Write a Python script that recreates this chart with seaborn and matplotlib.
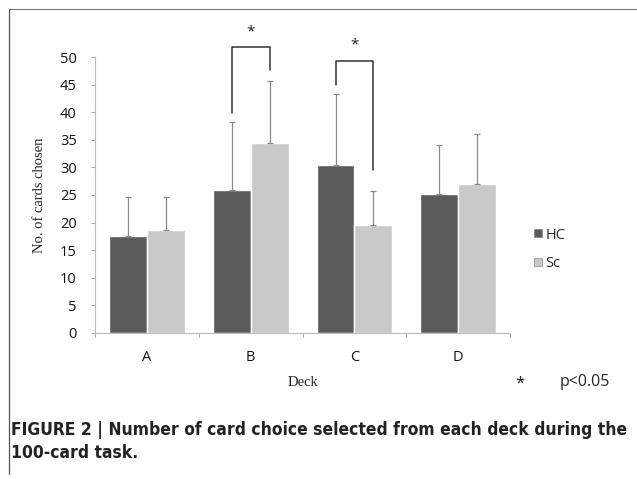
import pandas as pd
import seaborn as sns
import matplotlib.pyplot as plt
from matplotlib.lines import Line2D

# Data
decks = ['A', 'B', 'C', 'D']
groups = ['HC', 'Sc']
hc_mean = [17.6, 25.9, 30.5, 25.1]
sc_mean = [18.6, 34.4, 19.6, 27.0]
hc_sd = [7.0, 12.3, 12.8, 9.0]
sc_sd = [6.0, 11.2, 6.1, 9.1]

# significance brackets: deck, top of bracket, left leg end, right leg end, star y
sig_decks = ['B', 'C']
sig_top = [51.9, 49.3]
sig_left = [39.8, 44.9]
sig_right = [47.6, 29.5]
sig_star = [54.6, 52.2]

colors = {'HC': '#5a5a5a', 'Sc': '#c9c9c9'}

df = pd.DataFrame({
    'deck': decks * 2,
    'group': ['HC'] * 4 + ['Sc'] * 4,
    'mean': hc_mean + sc_mean,
    'sd': hc_sd + sc_sd,
})

sns.set_style('white')
plt.rcParams['font.family'] = ['Open Sans', 'DejaVu Sans']

fig = plt.figure(figsize=(6.37, 4.79), dpi=100)
ax = fig.add_axes([0.149, 0.305, 0.652, 0.576])

sns.barplot(data=df, x='deck', y='mean', hue='group', order=decks,
            hue_order=groups, palette=colors, width=0.73, errorbar=None,
            saturation=1, ax=ax, legend=False)

# error bars (upper only) from the drawn bars
centers = {}
for gi, g in enumerate(groups):
    sub = df[df.group == g]
    for di, d in enumerate(decks):
        p = ax.patches[gi * len(decks) + di]
        cx = p.get_x() + p.get_width() / 2
        centers[(g, d)] = cx
        row = sub[sub.deck == d].iloc[0]
        ax.errorbar(cx, row['mean'], yerr=[[0], [row['sd']]], fmt='none',
                    ecolor='#8a8a8a', elinewidth=0.9, capsize=2, capthick=0.9)

for d, top, yl, yr, ys in zip(sig_decks, sig_top, sig_left, sig_right, sig_star):
    x1 = centers[('HC', d)]
    x2 = centers[('Sc', d)]
    ax.plot([x1, x1, x2, x2], [yl, top, top, yr], color='#333333', lw=1.1,
            clip_on=False)
    ax.text((x1 + x2) / 2, ys, '*', ha='center', va='center', fontsize=11,
            color='#222222', clip_on=False)

ax.set_ylim(0, 50)
ax.set_xlim(-0.5, 3.5)
ax.set_yticks(range(0, 51, 5))
ax.set_xticks([-0.5, 0.5, 1.5, 2.5, 3.5], minor=True)
ax.tick_params(axis='y', labelsize=10.5, length=3, color='#aaaaaa', pad=10,
               left=True, labelcolor='#111111')
ax.tick_params(axis='x', which='major', labelsize=10.5, length=0, pad=12,
               labelcolor='#111111')
ax.tick_params(axis='x', which='minor', length=3, color='#aaaaaa',
               bottom=True, width=0.8)
for s in ['top', 'right']:
    ax.spines[s].set_visible(False)
ax.spines['left'].set_color('#bbbbbb')
ax.spines['bottom'].set_color('#bbbbbb')
ax.spines['left'].set_linewidth(0.8)
ax.spines['bottom'].set_linewidth(0.8)

ax.set_xlabel('Deck', family='Liberation Serif', fontsize=10.5, labelpad=8)
ax.set_ylabel('No. of cards chosen', family='Liberation Serif', fontsize=10.5,
              labelpad=10)

handles = [Line2D([], [], marker='s', ls='none', markersize=6,
                  markerfacecolor=colors[g], markeredgecolor='#888888',
                  markeredgewidth=0.5) for g in groups]
fig.legend(handles, groups, loc='center left', bbox_to_anchor=(0.815, 0.48),
           frameon=False, fontsize=10.5, handletextpad=0.1, labelspacing=0.9,
           handlelength=0.8)

fig.text(0.816, 0.200, '*', fontsize=12, ha='center', va='center')
fig.text(0.918, 0.203, 'p<0.05', fontsize=11.5, ha='center', va='center')

# frame around the chart
fig.add_artist(Line2D([0.014, 1.0], [0.981, 0.981], color='#777777', lw=0.8))
fig.add_artist(Line2D([0.014, 0.014], [0.981, 0.01], color='#555555', lw=0.9))

cap_kw = dict(fontsize=12.5, fontweight='bold', family='DejaVu Sans',
              fontstretch='condensed', color='#222222', va='center', ha='left')
fig.text(0.017, 0.103,
         'FIGURE 2 | Number of card choice selected from each deck during the',
         **cap_kw)
fig.text(0.017, 0.055, '100-card task.', **cap_kw)

fig.savefig('out.png', dpi=100)
